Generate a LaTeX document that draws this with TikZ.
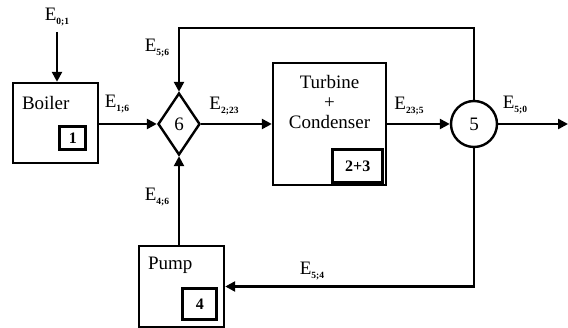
\documentclass[tikz,border=0pt]{standalone}
\usepackage{fontspec}
\setmainfont{Liberation Serif}
\usepackage{tikz}
\usetikzlibrary{arrows.meta,positioning,shapes.geometric}

\newcommand{\eflow}[1]{E\raisebox{-0.22em}{\fontsize{9.5}{9.5}\selectfont\bfseries #1}}

\begin{document}
\begin{tikzpicture}[
			x=1pt, y=-1pt,
			font=\fontsize{19}{21}\selectfont,
			unit/.style={rectangle, draw, line width=2.4pt, minimum width=85pt, minimum height=80pt, inner sep=0pt},
			tag/.style={rectangle, draw, line width=2.8pt, inner sep=0pt, font=\fontsize{16}{16}\selectfont\bfseries},
			junc/.style={draw, line width=2.4pt, inner sep=0pt},
			flow/.style={inner sep=1pt},
			>={Triangle[length=10pt,width=10pt]},
			line width=2.4pt
			]
			\useasboundingbox (0,0) rectangle (568,328);
			
			% Komponenten
			\node[unit] (boiler) at (55.5,123) {};
			\node[junc, diamond, minimum width=42pt, minimum height=62pt] (d6) at (179,124) {6};
			\node[unit, minimum width=113pt, minimum height=122pt] (turbine) at (329.5,124) {};
			\node[junc, circle, minimum size=46pt] (c5) at (474,124) {5};
			\node[unit, minimum height=81pt] (pump) at (181.5,286.5) {};
			
			% Beschriftungen der Komponenten
			\node[anchor=north west, inner sep=0pt] (boilertxt) at ([xshift=9pt,yshift=-13pt]boiler.north west) {Boiler};
			\node[anchor=north west, inner sep=0pt] (pumptxt) at ([xshift=9pt,yshift=-11pt]pump.north west) {Pump};
			\node[align=center, inner sep=0pt] (turbtxt) at ([yshift=22pt]turbine.center) {Turbine\\[-1pt]+\\[-1pt]Condenser};
			
			% Nummern
			\node[tag, minimum width=26pt, minimum height=23pt, above left=13pt and 12pt of boiler.south east] (n1) {1};
			\node[tag, minimum width=34pt, minimum height=31pt, above left=7pt and 7pt of pump.south east] (n4) {4};
			\node[tag, minimum width=50pt, minimum height=33pt, above left=2pt and 3pt of turbine.south east] (n23) {2+3};
			
			% Hilfspunkte
			\coordinate (loop) at (474,28);
			\coordinate (out) at (568,124);
			
			% Energiefluesse
			\node[flow] (e01) at (57,17) {\eflow{0;1}};
			\node[flow] (e16) at (117,104) {\eflow{1;6}};
			\node[flow] (e56) at (157,48) {\eflow{5;6}};
			\node[flow] (e223) at (224,106) {\eflow{2;23}};
			\node[flow] (e235) at (409,106) {\eflow{23;5}};
			\node[flow] (e50) at (515,105) {\eflow{5;0}};
			\node[flow] (e46) at (157,197) {\eflow{4;6}};
			\node[flow] (e54) at (312,271) {\eflow{5;4}};
			
			\draw[->] (e01.south |- 0,32) -- (e01.south |- boiler.north);
			\draw[->] (boiler.east |- d6) -- (d6.west);
			\draw[->] (d6.east) -- (turbine.west |- d6);
			\draw[->] (turbine.east |- c5) -- (c5.west);
			\draw[->] (c5.east) -- (out);
			\draw[->] (c5.north) -- (loop) -| (d6.north);
			\draw[->] (c5.south) |- (pump.east);
			\draw[->] (d6 |- pump.north) -- (d6.south);
			
		\end{tikzpicture}
\end{document}
